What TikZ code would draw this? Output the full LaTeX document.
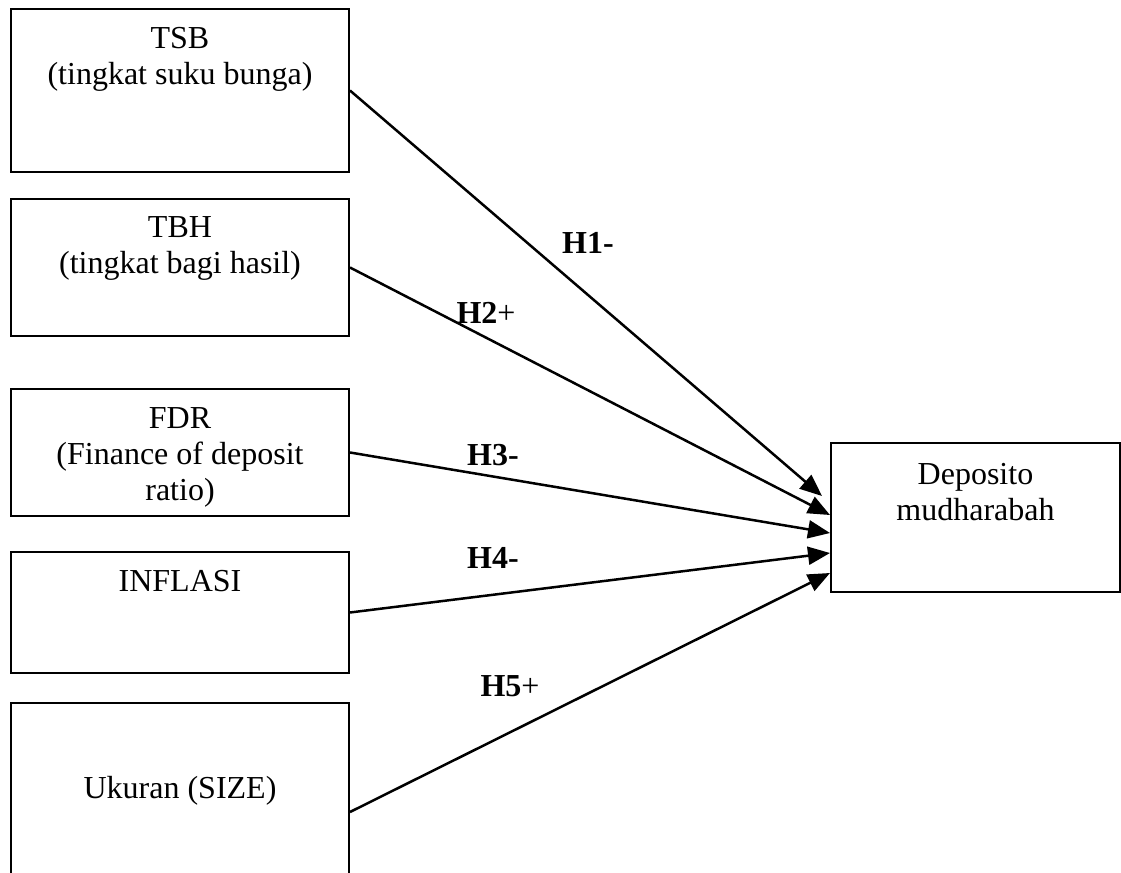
\documentclass[tikz,border=0pt]{standalone}
\usepackage{fontspec}
\setmainfont{Liberation Serif}
\usepackage{tikz}
\usetikzlibrary{calc}
\usetikzlibrary{arrows.meta}
\usetikzlibrary{positioning}
\tikzset{>={Triangle[length=11pt,width=9pt]}}
\tikzstyle{box} = [draw, line width=1pt, minimum width=169pt, inner sep=0]
\tikzstyle{boxtext} = [draw=none, inner sep=0, align=center, font=\fontsize{16pt}{18pt}\selectfont]
\tikzstyle{lbl} = [draw=none, inner sep=0, anchor=base, font=\fontsize{16pt}{18pt}\selectfont]
\tikzstyle{arr} = [->, line width=1.25pt]

\begin{document}
\begin{tikzpicture}[x=0.5pt, y=-0.5pt]
\clip (0,0) rectangle (1121,873);
\fill[white] (0,0) rectangle (1121,873);
% variable boxes
\node [box, minimum height=81.5pt]  (tsb) at (180, 90.5) {};
\node [box, minimum height=68.5pt]  (tbh) at (180, 267.5) {};
\node [box, minimum height=63.5pt]  (fdr) at (180, 452.5) {};
\node [box, minimum height=60.5pt]  (inf) at (180, 612.5) {};
\node [box, minimum height=109pt]   (uk)  at (180, 812) {};
\node [box, minimum width=144.5pt, minimum height=74.5pt] (dep) at (975.5, 517.5) {};
% box texts
\node [boxtext, below=9.25pt of tsb.north] (tsbtext) {TSB\\(tingkat suku bunga)};
\node [boxtext, below=9.25pt of tbh.north] (tbhtext) {TBH\\(tingkat bagi hasil)};
\node [boxtext, below=9.5pt of fdr.north]  (fdrtext) {FDR\\(Finance of deposit\\ratio)};
\node [boxtext, below=9.5pt of inf.north]  (inftext) {INFLASI};
\node [boxtext, below=37pt of uk.north]    (uktext)  {Ukuran (SIZE)};
\node [boxtext, below=10.5pt of dep.north] (deptext) {Deposito\\mudharabah};
% hypotheses
\draw [arr] (tsb.east) -- ([xshift=-4pt, yshift=10.75pt]dep.west);
\draw [arr] (tbh.east) -- ([yshift=1.25pt]dep.west);
\draw [arr] (fdr.east) -- ([yshift=-7.75pt]dep.west);
\draw [arr] (inf.east) -- ([yshift=-17.75pt]dep.west);
\draw [arr] (uk.east)  -- ([yshift=-27.75pt]dep.west);
\node [lbl] (h1) at (588, 253) {\textbf{H1-}};
\node [lbl] (h2) at (486, 323) {\textbf{H2}+};
\node [lbl] (h3) at (493, 465) {\textbf{H3-}};
\node [lbl] (h4) at (493, 568) {\textbf{H4-}};
\node [lbl] (h5) at (510, 696) {\textbf{H5}+};
\end{tikzpicture}
\end{document}
